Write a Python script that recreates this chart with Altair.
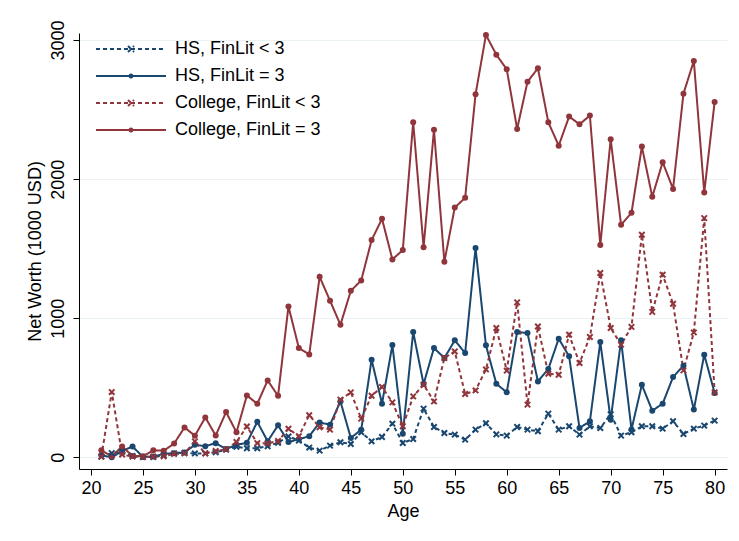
import altair as alt
import pandas as pd

ages = list(range(21, 81))
series_names = ["HS, FinLit < 3", "HS, FinLit = 3", "College, FinLit < 3", "College, FinLit = 3"]
hs_low = [5, 30, 40, 10, 2, 2, 15, 28, 33, 28,
          28, 36, 55, 76, 65, 65, 80, 105, 150, 120,
          70, 48, 84, 108, 96, 180, 115, 146, 242, 103,
          132, 350, 218, 175, 163, 127, 199, 245, 165, 156,
          218, 199, 187, 314, 199, 223, 163, 223, 211, 310,
          156, 180, 223, 223, 206, 259, 168, 206, 228, 264]
hs_high = [15, 0, 45, 78, 3, 5, 25, 30, 35, 90,
           80, 102, 60, 90, 104, 255, 116, 230, 110, 130,
           152, 250, 235, 402, 139, 199, 702, 386, 807, 170,
           901, 527, 786, 714, 841, 750, 1505, 805, 529, 467,
           901, 893, 546, 635, 853, 726, 211, 259, 829, 271,
           841, 200, 522, 335, 386, 577, 659, 343, 738, 463]
col_low = [5, 469, 20, 5, 3, 5, 8, 25, 28, 115,
           28, 45, 58, 110, 222, 102, 100, 117, 205, 152,
           303, 216, 199, 415, 467, 278, 443, 506, 395, 223,
           438, 522, 402, 714, 761, 455, 481, 632, 930, 623,
           1114, 379, 941, 601, 594, 881, 678, 865, 1325, 930,
           810, 938, 1600, 1046, 1313, 1104, 625, 898, 1720, 467]
col_high = [50, 8, 78, 10, 8, 51, 47, 99, 215, 155,
            287, 157, 325, 180, 445, 385, 553, 442, 1085, 786,
            740, 1298, 1126, 953, 1197, 1272, 1562, 1715, 1423, 1490,
            2410, 1511, 2355, 1406, 1796, 1866, 2610, 3037, 2895, 2790,
            2361, 2701, 2797, 2409, 2241, 2450, 2395, 2457, 1526, 2287,
            1672, 1758, 2234, 1873, 2122, 1930, 2615, 2850, 1904, 2555]
x_ticks = [20, 25, 30, 35, 40, 45, 50, 55, 60, 65, 70, 75, 80]
y_ticks = [0, 1000, 2000, 3000]

rows = []
for name, vals in zip(series_names, [hs_low, hs_high, col_low, col_high]):
    for a, v in zip(ages, vals):
        rows.append({"age": a, "nw": v, "series": name})
df = pd.DataFrame(rows)

NAVY = "#1a476f"
MAROON = "#90353b"
FONT = "Liberation Sans"

color_scale = alt.Scale(domain=series_names, range=[NAVY, NAVY, MAROON, MAROON])
dash_scale = alt.Scale(domain=series_names, range=[[4, 3], [1, 0], [4, 3], [1, 0]])

# legend symbol paths (unit = 3 px with symbolSize 36)
half = 11.667
def dashed_line():
    parts = []
    pos = -half
    while pos < half:
        end = min(pos + 1.333, half)
        parts.append(f"M{pos:.3f},0H{end:.3f}")
        pos = end + 1.0
    return "".join(parts)

x_mark = "M-1.0,-1.0L1.0,1.0M-1.0,1.0L1.0,-1.0"
o_mark = "M-0.5,0A0.5,0.5 0 1,1 0.5,0A0.5,0.5 0 1,1 -0.5,0Z"
path_low = dashed_line() + x_mark
path_high = f"M{-half},0H{half}" + o_mark

legend = alt.Legend(
    title=None, orient="none", legendX=43, legendY=7,
    symbolSize=36, symbolStrokeWidth=2, labelOffset=35, rowPadding=9,
    labelFontSize=18, labelFont=FONT, labelColor="black", padding=0,
    symbolType={"expr": f"indexof(datum.value, '<') >= 0 ? '{path_low}' : '{path_high}'"},
    symbolOpacity=1,
)

x_enc = alt.X("age:Q", scale=alt.Scale(domain=[18.85, 81.19], nice=False, zero=False),
              axis=alt.Axis(values=x_ticks, title="Age", grid=False, labelPadding=4,
                            titlePadding=5, format="d"))
y_enc = alt.Y("nw:Q", scale=alt.Scale(domain=[-84, 3051], nice=False, zero=False),
              axis=alt.Axis(values=y_ticks, title="Net Worth (1000 USD)", grid=True,
                            gridColor="#eaf2f3", gridWidth=1.2, labelAngle=270,
                            labelAlign="center", labelBaseline="bottom",
                            labelPadding=6, titlePadding=5, format="d"))

base = alt.Chart(df)
lines = base.mark_line(strokeWidth=2).encode(
    x=x_enc, y=y_enc,
    color=alt.Color("series:N", scale=color_scale, legend=legend),
    strokeDash=alt.StrokeDash("series:N", scale=dash_scale, legend=None),
    detail="series:N",
)
pts_o = base.transform_filter("indexof(datum.series, '=') >= 0").mark_point(
    shape="circle", filled=True, size=36, opacity=1
).encode(x="age:Q", y="nw:Q", color=alt.Color("series:N", scale=color_scale, legend=None))
pts_x = base.transform_filter("indexof(datum.series, '<') >= 0").mark_point(
    shape="M-1,-1L1,1M-1,1L1,-1", filled=False, size=30, strokeWidth=2, opacity=1
).encode(x="age:Q", y="nw:Q", color=alt.Color("series:N", scale=color_scale, legend=None))

chart = alt.layer(lines, pts_o, pts_x).properties(
    width=648, height=436,
    autosize=alt.AutoSizeParams(type="none"),
    padding={"left": 71, "top": 25, "right": 4, "bottom": 72},
    background="white",
).configure_view(stroke=None).configure_axis(
    domainColor="black", tickColor="black", labelColor="black", titleColor="black",
    labelFont=FONT, titleFont=FONT, labelFontSize=18, titleFontSize=18,
    titleFontWeight="normal", tickSize=6, domainWidth=1, tickWidth=1,
)

chart.save("out.html", embed_options={"renderer": "svg", "actions": False})
